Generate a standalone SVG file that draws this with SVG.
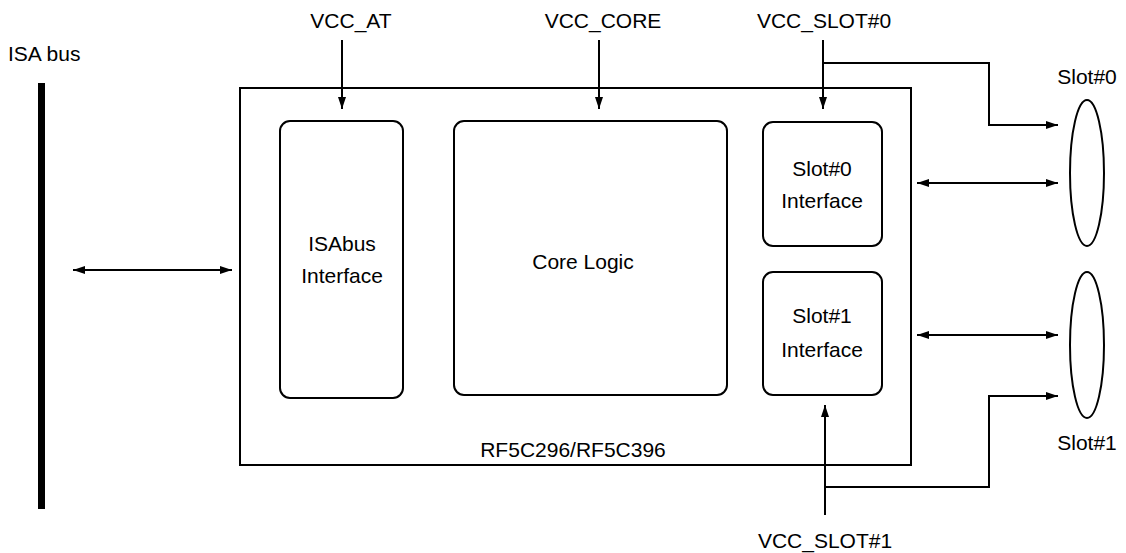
<svg xmlns="http://www.w3.org/2000/svg" width="1126" height="553" viewBox="0 0 1126 553">
<style>
text{font-family:"Liberation Sans",Arial,sans-serif;font-size:21px;fill:#000}
.c{text-anchor:middle}
.box{fill:none;stroke:#000;stroke-width:2}
.ln{fill:none;stroke:#000;stroke-width:2}
</style>
<defs>
<marker id="ah" viewBox="0 0 12 8" refX="12" refY="4" markerWidth="12" markerHeight="8" markerUnits="userSpaceOnUse" orient="auto-start-reverse">
<path d="M0,0 L12,4 L0,8 z" fill="#000"/>
</marker>
</defs>
<rect width="1126" height="553" fill="#fff"/>
<g id="isa-bus">
<rect x="38" y="83" width="7" height="426" fill="#000"/>
<text x="8" y="61">ISA bus</text>
</g>
<g id="chip">
<rect class="box" x="240" y="88" width="671" height="377"/>
<text class="c" x="573" y="457">RF5C296/RF5C396</text>
</g>
<g id="isabus-if">
<rect class="box" x="280" y="121" width="123" height="277" rx="10"/>
<text class="c" x="342" y="251">ISAbus</text>
<text class="c" x="342" y="283">Interface</text>
</g>
<g id="core">
<rect class="box" x="454" y="121" width="273" height="274" rx="10"/>
<text class="c" x="583" y="269">Core Logic</text>
</g>
<g id="slot0-if">
<rect class="box" x="763" y="122" width="119" height="124" rx="10"/>
<text class="c" x="822" y="176">Slot#0</text>
<text class="c" x="822" y="208">Interface</text>
</g>
<g id="slot1-if">
<rect class="box" x="763" y="272" width="119" height="123" rx="10"/>
<text class="c" x="822" y="323">Slot#1</text>
<text class="c" x="822" y="357">Interface</text>
</g>
<g id="slot0">
<ellipse class="box" cx="1087" cy="173" rx="17" ry="73"/>
<text class="c" x="1087" y="84">Slot#0</text>
</g>
<g id="slot1">
<ellipse class="box" cx="1087" cy="345" rx="17" ry="73"/>
<text class="c" x="1087" y="450">Slot#1</text>
</g>
<g id="labels">
<text class="c" x="351" y="28">VCC_AT</text>
<text class="c" x="603" y="28">VCC_CORE</text>
<text class="c" x="824" y="28">VCC_SLOT#0</text>
<text class="c" x="825" y="548">VCC_SLOT#1</text>
</g>
<g id="connectors">
<line class="ln" x1="73" y1="270" x2="232" y2="270" marker-start="url(#ah)" marker-end="url(#ah)"/>
<line class="ln" x1="342" y1="40" x2="342" y2="109" marker-end="url(#ah)"/>
<line class="ln" x1="599" y1="40" x2="599" y2="109" marker-end="url(#ah)"/>
<line class="ln" x1="823" y1="40" x2="823" y2="109" marker-end="url(#ah)"/>
<polyline class="ln" points="823,63 989,63 989,125 1058,125" marker-end="url(#ah)"/>
<line class="ln" x1="917" y1="183" x2="1058" y2="183" marker-start="url(#ah)" marker-end="url(#ah)"/>
<line class="ln" x1="917" y1="335" x2="1058" y2="335" marker-start="url(#ah)" marker-end="url(#ah)"/>
<line class="ln" x1="825" y1="515" x2="825" y2="405" marker-end="url(#ah)"/>
<polyline class="ln" points="825,487 989,487 989,396 1058,396" marker-end="url(#ah)"/>
</g>
</svg>
